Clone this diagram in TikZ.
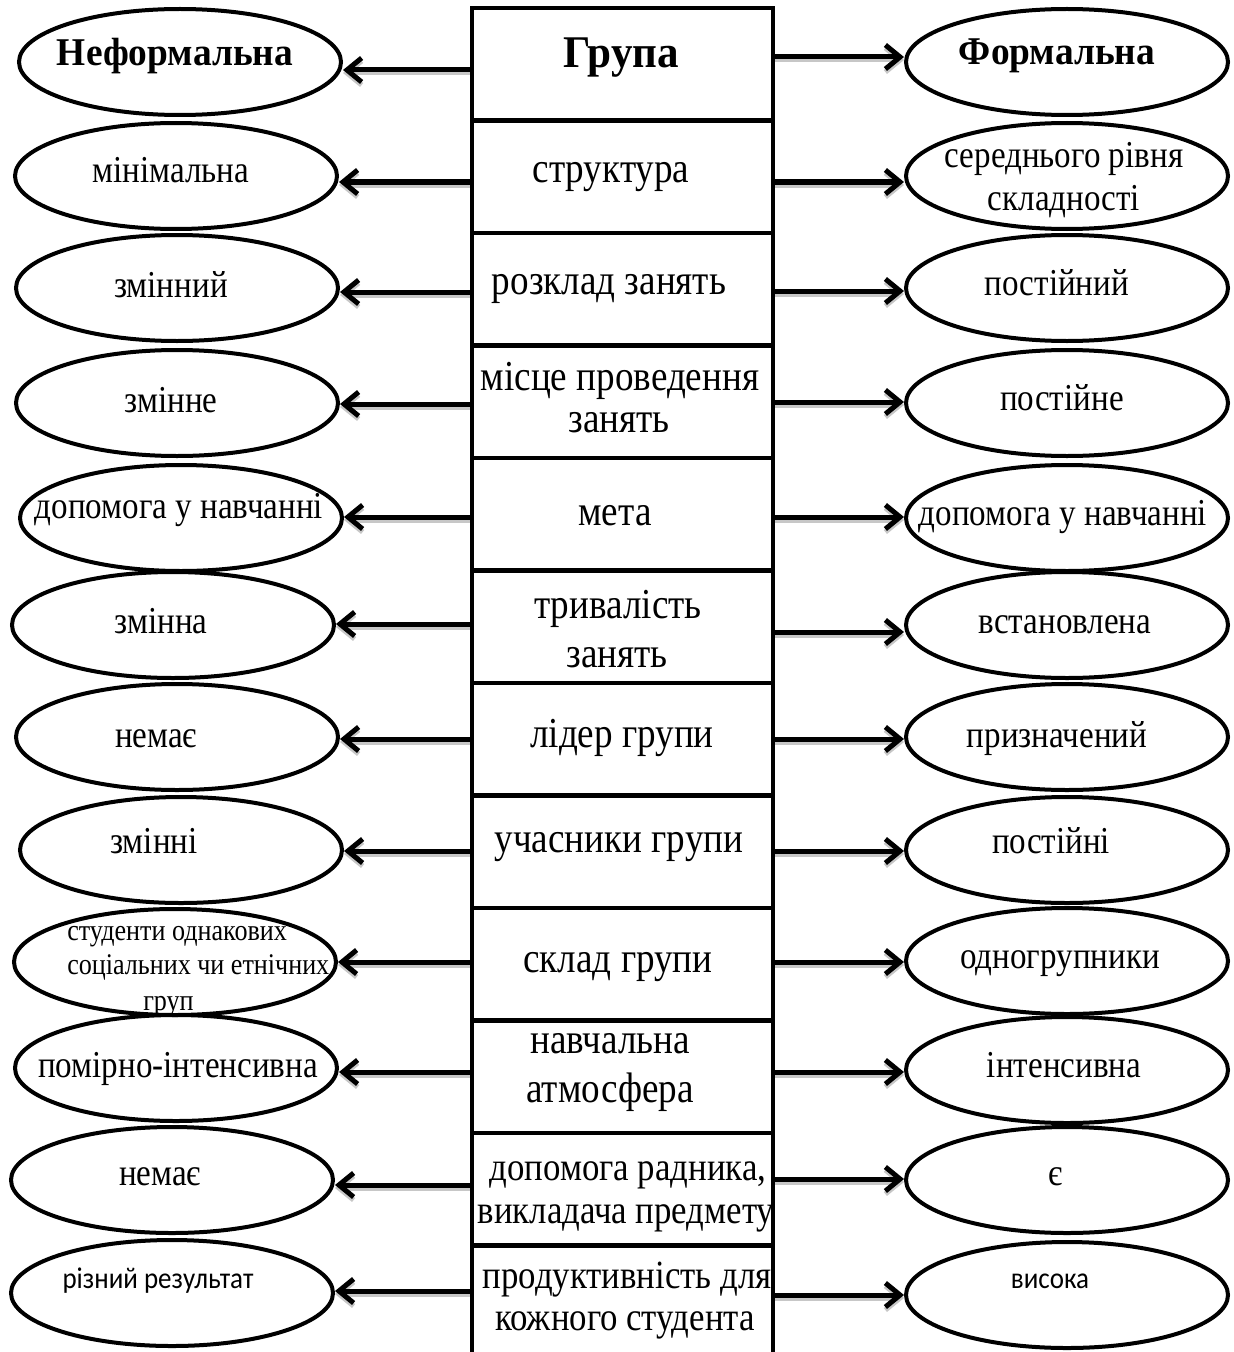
\documentclass[tikz,border=0pt]{standalone}
\usepackage{fontspec}
\setmainfont{Liberation Serif}[FakeStretch=0.87, BoldFeatures={FakeStretch=0.95}]
\newfontfamily\calfont{Carlito}[FakeStretch=0.9]
\usetikzlibrary{shapes.geometric,arrows.meta,calc}

\tikzset{
  ell/.style={ellipse, draw, line width=3pt, minimum width=241.5pt, minimum height=79.5pt, inner sep=0pt},
  cell/.style={rectangle, draw, line width=3.4pt, minimum width=225.75pt, minimum height=84.375pt, inner sep=0pt},
  txt/.style={anchor=base, inner sep=0pt, font=\fontsize{28.5pt}{34pt}\selectfont},
  mid/.style={anchor=base, inner sep=0pt, font=\fontsize{32pt}{38pt}\selectfont},
  midtight/.style={anchor=base, inner sep=0pt, font=\fontsize{30pt}{36pt}\selectfont},
  head/.style={anchor=base, inner sep=0pt, font=\fontsize{29.5pt}{35pt}\selectfont\bfseries},
  title/.style={anchor=base, inner sep=0pt, font=\fontsize{34pt}{40pt}\selectfont\bfseries},
  small/.style={anchor=base west, inner sep=0pt, font=\fontsize{22.5pt}{26pt}\selectfont},
  sans/.style={anchor=base, inner sep=0pt, font=\fontsize{22.5pt}{27pt}\selectfont\calfont},
  arr/.style={line width=3.75pt, -{Straight Barb[length=11pt,width=18pt]}},
  arrshade/.style={line width=3.75pt, draw=black!22, -{Straight Barb[length=11pt,width=18pt]}, shift={(2,3)}}
}

\begin{document}
\begin{tikzpicture}[x=0.75pt,y=-0.75pt]
\useasboundingbox (0,0) rectangle (1234,1352);
\clip (0,0) rectangle (1234,1352);
\fill[white] (0,0) rectangle (1234,1352);

% central column of criteria
\foreach \i in {0,...,11}
  \node[cell] (c\i) at (622.5, 64.25+112.5*\i) {};

% left column: informal group
\node[ell] (l0)  at (180, 62)   {};
\node[ell] (l1)  at (176, 176)  {};
\node[ell] (l2)  at (177, 288)  {};
\node[ell] (l3)  at (177, 403)  {};
\node[ell] (l4)  at (181, 518)  {};
\node[ell] (l5)  at (173, 625)  {};
\node[ell] (l6)  at (177, 737)  {};
\node[ell] (l7)  at (181, 850)  {};
\node[ell] (l8)  at (175, 962)  {};
\node[ell] (l9)  at (176, 1068) {};
\node[ell] (l10) at (172, 1180) {};
\node[ell] (l11) at (172, 1293) {};

% right column: formal group
\node[ell] (r0)  at (1067, 62)   {};
\node[ell] (r1)  at (1067, 176)  {};
\node[ell] (r2)  at (1067, 288)  {};
\node[ell] (r3)  at (1067, 403)  {};
\node[ell] (r4)  at (1067, 518)  {};
\node[ell] (r5)  at (1067, 625)  {};
\node[ell] (r6)  at (1067, 737)  {};
\node[ell] (r7)  at (1067, 850)  {};
\node[ell] (r8)  at (1067, 961)  {};
\node[ell] (r9)  at (1067, 1070) {};
\node[ell] (r10) at (1067, 1180) {};
\node[ell] (r11) at (1067, 1295) {};

% connectors: soft shadow first, then the arrow itself
\foreach \i/\ly/\ry in {0/70/57, 1/182/182, 2/292/291, 3/404/402, 4/517/517, 5/624/632,
                        6/739/739, 7/851/851, 8/962/962, 9/1072/1072, 10/1185/1179, 11/1291/1295} {
  \draw[arrshade] (c\i.west |- 0,\ly) -- (l\i.east |- 0,\ly);
  \draw[arrshade] (c\i.east |- 0,\ry) -- (r\i.west |- 0,\ry);
  \draw[arr] (c\i.west |- 0,\ly) -- (l\i.east |- 0,\ly);
  \draw[arr] (c\i.east |- 0,\ry) -- (r\i.west |- 0,\ry);
}

% headings
\node[head]  (tl0) at (175, 66) {Неформальна};
\node[title] (tc0) at (621, 68) {Група};
\node[head]  (tr0) at (1057, 65) {Формальна};

% row 1
\node[txt] (tl1)  at (171, 182) {мінімальна};
\node[mid] (tc1)  at (611, 182) {структура};
\node[txt] (tr1a) at (1064, 167) {середнього рівня};
\node[txt] (tr1b) at (1064, 210) {складності};

% row 2
\node[txt] (tl2) at (171, 297) {змінний};
\node[mid] (tc2) at (609, 294) {розклад занять};
\node[txt] (tr2) at (1057, 295) {постійний};

% row 3
\node[txt] (tl3)  at (171, 412) {змінне};
\node[mid] (tc3a) at (620, 390) {місце проведення};
\node[mid] (tc3b) at (619, 432) {занять};
\node[txt] (tr3)  at (1062, 410) {постійне};

% row 4
\node[txt] (tl4) at (179, 518) {допомога у навчанні};
\node[mid] (tc4) at (615, 525) {мета};
\node[txt] (tr4) at (1063, 525) {допомога у навчанні};

% row 5
\node[txt] (tl5)  at (161, 633) {змінна};
\node[mid] (tc5a) at (618, 618) {тривалість};
\node[mid] (tc5b) at (617, 667) {занять};
\node[txt] (tr5)  at (1065, 633) {встановлена};

% row 6
\node[txt] (tl6) at (156, 747) {немає};
\node[mid] (tc6) at (622, 747) {лідер групи};
\node[txt] (tr6) at (1057, 747) {призначений};

% row 7
\node[txt] (tl7) at (154, 853) {змінні};
\node[mid] (tc7) at (619, 852) {учасники групи};
\node[txt] (tr7) at (1051, 853) {постійні};

% row 8
\node[small] (tl8a) at (67, 940)  {студенти однакових};
\node[small] (tl8b) at (67, 974)  {соціальних чи етнічних};
\node[small] (tl8c) at (143, 1010) {груп};
\node[mid] (tc8) at (618, 972) {склад групи};
\node[txt] (tr8) at (1060, 968) {одногрупники};

% row 9
\node[txt] (tl9)  at (178, 1077) {помірно-інтенсивна};
\node[mid] (tc9a) at (610, 1053) {навчальна};
\node[mid] (tc9b) at (610, 1102) {атмосфера};
\node[txt] (tr9)  at (1064, 1077) {інтенсивна};

% row 10
\node[txt] (tl10)  at (160, 1185) {немає};
\node[midtight] (tc10a) at (628, 1180) {допомога радника,};
\node[midtight] (tc10b) at (626, 1223) {викладача предмету};
\node[txt] (tr10)  at (1056, 1185) {є};

% row 11
\node[sans] (tl11)  at (158, 1288) {різний результат};
\node[midtight] (tc11a) at (627, 1288) {продуктивність для};
\node[midtight] (tc11b) at (625, 1330) {кожного студента};
\node[sans] (tr11)  at (1050, 1288) {висока};
\end{tikzpicture}
\end{document}
